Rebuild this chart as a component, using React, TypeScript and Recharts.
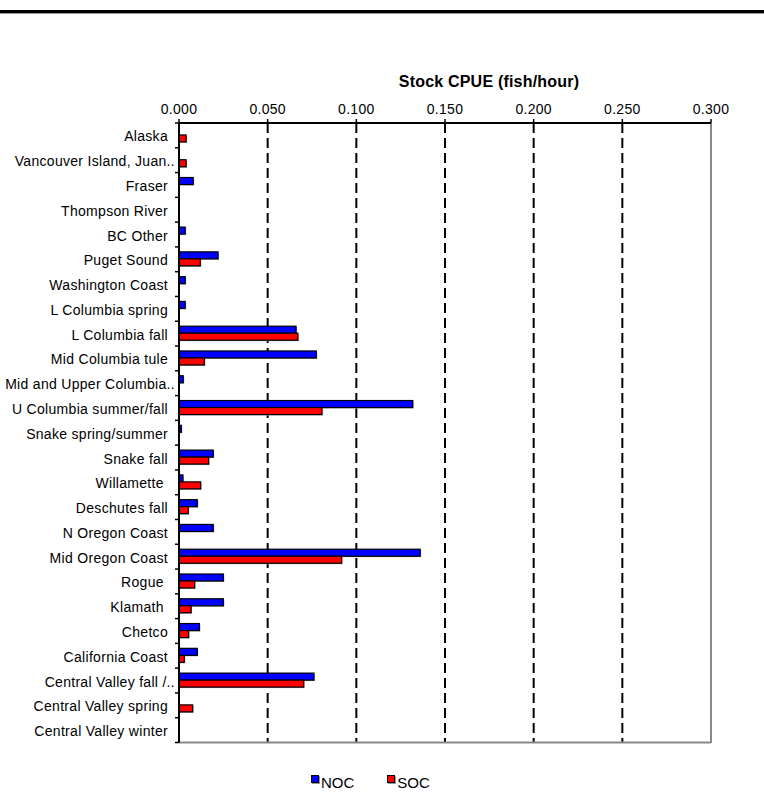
import React from "react";
import {
  BarChart,
  Bar,
  XAxis,
  YAxis,
  CartesianGrid,
  ReferenceLine,
} from "recharts";

const stocks = [
  "Alaska",
  "Vancouver Island, Juan..",
  "Fraser",
  "Thompson River",
  "BC Other",
  "Puget Sound",
  "Washington Coast",
  "L Columbia spring",
  "L Columbia fall",
  "Mid Columbia tule",
  "Mid and Upper Columbia..",
  "U Columbia summer/fall",
  "Snake spring/summer",
  "Snake fall",
  "Willamette ",
  "Deschutes fall",
  "N Oregon Coast",
  "Mid Oregon Coast",
  "Rogue ",
  "Klamath ",
  "Chetco",
  "California Coast",
  "Central Valley fall /..",
  "Central Valley spring",
  "Central Valley winter",
];

const nocValues = [
  null, null, 0.008, null, 0.0035, 0.022, 0.0035, 0.0035, 0.066, 0.0774,
  0.0024, 0.1318, 0.0013, 0.0193, 0.0022, 0.0103, 0.0193, 0.136, 0.025,
  0.025, 0.0115, 0.0103, 0.0761, null, null,
];

const socValues = [
  0.004, 0.004, null, null, null, 0.012, null, null, 0.067, 0.0143, null,
  0.0806, null, 0.0167, 0.0122, 0.0052, null, 0.0917, 0.0088, 0.0068,
  0.0054, 0.003, 0.0703, 0.0077, null,
];

const xTicks = [0, 0.05, 0.1, 0.15, 0.2, 0.25, 0.3];

const data = stocks.map((name, i) => ({
  name,
  NOC: nocValues[i],
  SOC: socValues[i],
}));

const PLOT_TOP = 123;
const PLOT_BOTTOM = 742.5;
const BAND = (PLOT_BOTTOM - PLOT_TOP) / stocks.length;
const AXIS_X = 179;

function StockTick(props: any) {
  const { y, payload, index } = props;
  const label: string = payload.value;
  const tx = label.endsWith("..") ? 175 : 168;
  return (
    <g>
      <text
        x={tx}
        y={y + 6}
        textAnchor="end"
        fontSize={14}
        fill="#000"
        style={{ whiteSpace: "pre", letterSpacing: 0.3 }}
      >
        {label}
      </text>
      {index === 0 && (
        <line x1={AXIS_X - 4} x2={AXIS_X} y1={y - BAND / 2} y2={y - BAND / 2} stroke="#000" strokeWidth={1.5} />
      )}
      <line x1={AXIS_X - 4} x2={AXIS_X} y1={y + BAND / 2} y2={y + BAND / 2} stroke="#000" strokeWidth={1.5} />
    </g>
  );
}

function ShadowBar(props: any) {
  const { x, y, width, height, fill } = props;
  if (!width || width <= 0) return null;
  return (
    <g>
      <rect x={x + 1} y={y + 1} width={width} height={height} fill="#a8a8a8" />
      <rect x={x} y={y} width={width} height={height} fill={fill} stroke="#000" strokeWidth={1.2} />
    </g>
  );
}

function LegendItem({ color, label }: { color: string; label: string }) {
  return (
    <div style={{ display: "flex", alignItems: "flex-start" }}>
      <span
        style={{
          display: "inline-block",
          width: 6,
          height: 6,
          marginTop: 1,
          background: color,
          border: "1px solid #000",
          boxShadow: "1px 1px 0 #999",
        }}
      />
      <span style={{ marginLeft: 2, fontSize: 15, lineHeight: "17px" }}>{label}</span>
    </div>
  );
}

export default function App() {
  return (
    <div
      style={{
        position: "absolute",
        left: 0,
        top: 0,
        width: 764,
        height: 807,
        background: "#fff",
        fontFamily: "'Liberation Sans', Arial, sans-serif",
        color: "#000",
      }}
    >
      <div style={{ position: "absolute", left: 0, top: 10, width: 764, height: 3, background: "#000" }} />
      <div style={{ position: "absolute", left: 0, top: 13, width: 764, height: 1, background: "#999" }} />

      <div
        style={{
          position: "absolute",
          left: 389,
          top: 73,
          width: 200,
          textAlign: "center",
          fontSize: 16,
          fontWeight: "bold",
          letterSpacing: 0.2,
          lineHeight: "18px",
        }}
      >
        Stock CPUE (fish/hour)
      </div>

      <BarChart
        width={764}
        height={807}
        data={data}
        layout="vertical"
        margin={{ top: 93, right: 53, bottom: 807 - PLOT_BOTTOM, left: 0 }}
        barCategoryGap="20%"
        barGap={0}
      >
        <CartesianGrid horizontal={false} stroke="#000" strokeWidth={2} strokeDasharray="10 5" />
        <CartesianGrid vertical={false} horizontalPoints={[PLOT_BOTTOM]} stroke="#888" strokeWidth={2} />
        <ReferenceLine x={0.3} stroke="#888" strokeWidth={2} />
        <XAxis
          type="number"
          orientation="top"
          domain={[0, 0.3]}
          ticks={xTicks}
          tickFormatter={(v: number) => v.toFixed(3)}
          axisLine={{ stroke: "#000", strokeWidth: 2 }}
          tickLine={{ stroke: "#000", strokeWidth: 1.5 }}
          tickSize={4}
          tickMargin={5}
          tick={{ fill: "#000", fontSize: 14, letterSpacing: 0.3 }}
          height={30}
          allowDataOverflow
        />
        <YAxis
          type="category"
          dataKey="name"
          width={AXIS_X}
          interval={0}
          axisLine={{ stroke: "#000", strokeWidth: 2 }}
          tickLine={false}
          tick={<StockTick />}
        />
        <Bar dataKey="NOC" fill="#0000ff" shape={<ShadowBar />} isAnimationActive={false} />
        <Bar dataKey="SOC" fill="#ff0000" shape={<ShadowBar />} isAnimationActive={false} />
      </BarChart>

      <div style={{ position: "absolute", left: 311, top: 774, display: "flex" }}>
        <LegendItem color="#0000ff" label="NOC" />
        <div style={{ width: 33 }} />
        <LegendItem color="#ff0000" label="SOC" />
      </div>
    </div>
  );
}
